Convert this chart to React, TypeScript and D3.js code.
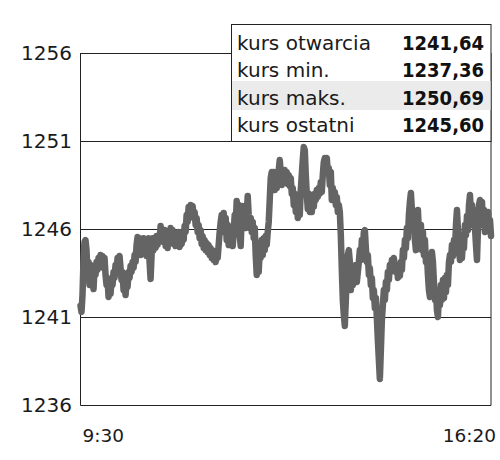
import React, { useEffect, useRef } from 'react';
import * as d3 from 'd3';

// one reading per minute, 9:30 -> 16:20
const prices = [
  1241.64, 1241.28, 1242.25, 1244.24, 1245.26, 1245.37, 1244.8, 1243.39, 1244.12, 1242.82, 1243.95,
  1242.93, 1243.67, 1242.59, 1243.78, 1243.39, 1244.12, 1243.67, 1244.35, 1243.95, 1244.52,
  1244.07, 1244.47, 1243.78, 1244.35, 1243.39, 1242.82, 1243.22, 1242.14, 1242.65, 1242.31,
  1243.1, 1242.82, 1243.56, 1243.22, 1243.95, 1243.56, 1244.35, 1244.12, 1244.47, 1243.78,
  1243.1, 1243.56, 1242.53, 1242.93, 1242.25, 1242.99, 1242.7, 1243.56, 1243.22, 1243.9,
  1243.56, 1244.12, 1243.78, 1244.52, 1244.12, 1245.09, 1245.54, 1244.8, 1245.48, 1244.52,
  1245.37, 1244.69, 1245.48, 1244.8, 1245.37, 1244.47, 1245.09, 1245.48, 1244.12, 1243.16,
  1244.52, 1245.48, 1244.8, 1245.37, 1244.92, 1245.6, 1245.09, 1245.65, 1245.26, 1246.17,
  1245.48, 1245.83, 1245.26, 1245.94, 1245.03, 1245.6, 1244.92, 1245.83, 1245.37, 1246.06,
  1245.6, 1245.94, 1245.14, 1245.6, 1245.03, 1245.48, 1245.14, 1245.83, 1244.98, 1245.37,
  1245.14, 1245.72, 1245.37, 1246.17, 1245.83, 1246.8, 1246.4, 1247.25, 1246.8, 1247.36,
  1246.97, 1247.31, 1246.63, 1246.97, 1246.23, 1246.63, 1245.83, 1246.23, 1245.48, 1245.94,
  1245.14, 1245.6, 1244.92, 1245.37, 1244.8, 1245.2, 1244.69, 1245.09, 1244.52, 1244.92,
  1244.35, 1244.8, 1244.24, 1244.69, 1244.12, 1244.52, 1244.35, 1245.09, 1245.83, 1246.4,
  1246.8, 1246.06, 1246.91, 1245.83, 1246.63, 1245.37, 1246.23, 1245.09, 1245.94, 1245.48,
  1246.06, 1245.03, 1245.83, 1246.8, 1246.23, 1247.59, 1246.97, 1247.36, 1245.65, 1245.03,
  1246.8, 1247.31, 1246.51, 1246.97, 1246.06, 1246.8, 1247.88, 1246.8, 1246.06, 1246.63,
  1245.83, 1246.4, 1245.48, 1246.06, 1244.52, 1243.39, 1244.12, 1243.56, 1244.8, 1244.35,
  1245.37, 1244.52, 1245.48, 1244.8, 1245.6, 1245.09, 1245.83, 1246.4, 1247.65, 1248.9,
  1249.24, 1248.5, 1249.24, 1248.22, 1249.13, 1248.33, 1249.07, 1249.35, 1249.92, 1249.24,
  1248.5, 1249.24, 1248.67, 1249.35, 1248.9, 1249.24, 1248.56, 1249.07, 1248.45, 1248.9,
  1248.0, 1248.33, 1247.36, 1248.0, 1246.97, 1247.65, 1246.63, 1247.36, 1246.8, 1248.22,
  1249.07, 1249.92, 1250.66, 1250.49, 1249.07, 1248.0, 1247.14, 1248.0, 1246.97, 1247.65,
  1246.97, 1247.82, 1247.25, 1248.0, 1247.65, 1248.22, 1247.82, 1248.33, 1248.0, 1248.67,
  1248.11, 1249.07, 1249.81, 1250.03, 1249.64, 1250.03, 1249.24, 1249.47, 1248.5, 1249.24,
  1247.65, 1248.33, 1247.65, 1248.11, 1247.36, 1247.82, 1246.97, 1247.36, 1246.97, 1245.65,
  1243.67, 1241.97, 1241.11, 1240.49, 1241.97, 1243.39, 1244.52, 1244.8, 1244.12, 1242.53,
  1243.67, 1242.82, 1243.78, 1243.1, 1243.95, 1242.99, 1243.56, 1244.12, 1244.8, 1244.24,
  1245.37, 1244.8, 1245.83, 1245.94, 1244.92, 1244.12, 1244.52, 1243.39, 1243.78, 1242.82,
  1243.22, 1242.08, 1242.53, 1241.51, 1242.08, 1240.94, 1239.69, 1238.56, 1237.48, 1239.13,
  1240.83, 1241.68, 1242.53, 1241.97, 1242.99, 1242.53, 1243.56, 1243.1, 1243.95, 1243.56,
  1244.24, 1243.95, 1244.35, 1243.78, 1243.56, 1243.95, 1243.22, 1243.78, 1243.33, 1244.12,
  1243.67, 1244.8, 1244.35, 1245.37, 1244.92, 1246.06, 1245.48, 1246.8, 1247.54, 1248.05,
  1247.08, 1246.23, 1246.97, 1245.37, 1244.8, 1246.06, 1247.08, 1245.83, 1244.92, 1246.23,
  1244.8, 1245.83, 1244.52, 1245.37, 1244.12, 1244.52, 1243.39, 1242.53, 1242.14, 1243.67,
  1244.69, 1244.12, 1242.99, 1241.97, 1242.53, 1241.4, 1241.0, 1242.25, 1241.68, 1242.82,
  1241.97, 1243.1, 1242.08, 1243.22, 1242.42, 1243.39, 1242.82, 1244.12, 1244.52, 1244.12,
  1245.09, 1244.47, 1245.37, 1244.69, 1246.23, 1247.08, 1245.94, 1244.8, 1244.24, 1245.65,
  1244.35, 1245.37, 1244.92, 1246.23, 1245.65, 1246.74, 1245.94, 1247.36, 1247.93, 1246.8,
  1247.36, 1246.23, 1247.08, 1246.06, 1245.09, 1244.24, 1246.06, 1247.36, 1247.65, 1246.8,
  1247.54, 1246.23, 1247.08, 1245.83, 1246.8, 1246.06, 1246.97, 1245.94, 1246.51, 1245.6,
];

const yTicks = [1236, 1241, 1246, 1251, 1256];
const timeLabels = ['9:30', '16:20'];

const legendLabels = ['kurs otwarcia', 'kurs min.', 'kurs maks.', 'kurs ostatni'];
const legendValues = ['1241,64', '1237,36', '1250,69', '1245,60'];

const App = () => {
  const svgRef = useRef<SVGSVGElement>(null);

  useEffect(() => {
    const svg = d3.select(svgRef.current);
    svg.selectAll('*').remove();

    const left = 80.5, right = 491, top = 53, bottom = 405;
    const font = '"DejaVu Sans", sans-serif';

    const x = d3.scaleLinear().domain([0, prices.length - 1]).range([left, right]);
    const y = d3.scaleLinear().domain([1236, 1256]).range([bottom, top]);

    // grid lines
    svg.append('g')
      .selectAll('line')
      .data(yTicks)
      .enter()
      .append('line')
      .attr('x1', left)
      .attr('x2', right)
      .attr('y1', d => Math.round(y(d)) + 0.5)
      .attr('y2', d => Math.round(y(d)) + 0.5)
      .attr('stroke', '#222')
      .attr('stroke-width', 1);

    // frame sides
    svg.append('line')
      .attr('x1', left).attr('x2', left)
      .attr('y1', top).attr('y2', bottom + 0.5)
      .attr('stroke', '#222');
    svg.append('line')
      .attr('x1', right).attr('x2', right)
      .attr('y1', top).attr('y2', bottom + 0.5)
      .attr('stroke', '#222');

    // y labels
    svg.append('g')
      .selectAll('text')
      .data(yTicks)
      .enter()
      .append('text')
      .attr('x', 72)
      .attr('y', d => y(d))
      .attr('dy', '0.36em')
      .attr('text-anchor', 'end')
      .style('font-family', font)
      .style('font-size', '20px')
      .style('fill', '#1a1a1a')
      .text(d => d);

    // x labels
    svg.append('text')
      .attr('x', left + 2)
      .attr('y', 442)
      .style('font-family', font)
      .style('font-size', '18.5px')
      .style('fill', '#1a1a1a')
      .text(timeLabels[0]);
    svg.append('text')
      .attr('x', 496)
      .attr('y', 442)
      .attr('text-anchor', 'end')
      .style('font-family', font)
      .style('font-size', '18.5px')
      .style('fill', '#1a1a1a')
      .text(timeLabels[1]);

    // price line
    const line = d3.line<number>()
      .x((d, i) => x(i))
      .y(d => y(d))
      .curve(d3.curveLinear);

    svg.append('path')
      .datum(prices)
      .attr('d', line)
      .attr('fill', 'none')
      .attr('stroke', '#646464')
      .attr('stroke-width', 6.5)
      .attr('stroke-linejoin', 'round')
      .attr('stroke-linecap', 'round');

    // legend table
    const lg = svg.append('g');
    lg.append('rect')
      .attr('x', 231.5)
      .attr('y', 24.5)
      .attr('width', right - 231.5)
      .attr('height', Math.round(y(1251)) + 0.5 - 24.5)
      .attr('fill', '#fff')
      .attr('stroke', '#222');

    const rowY = d3.scaleLinear().domain([0, 3]).range([50, 132]);

    lg.append('rect')
      .attr('x', 232)
      .attr('y', 81)
      .attr('width', right - 232.5)
      .attr('height', 29)
      .attr('fill', '#ebebeb');

    lg.selectAll('.lbl')
      .data(legendLabels)
      .enter()
      .append('text')
      .attr('class', 'lbl')
      .attr('x', 237)
      .attr('y', (d, i) => rowY(i))
      .style('font-family', font)
      .style('font-size', '20px')
      .style('fill', '#1a1a1a')
      .text(d => d);

    lg.selectAll('.val')
      .data(legendValues)
      .enter()
      .append('text')
      .attr('class', 'val')
      .attr('x', 484)
      .attr('y', (d, i) => rowY(i))
      .attr('text-anchor', 'end')
      .style('font-family', '"DejaVu Sans Condensed", "DejaVu Sans", sans-serif')
      .style('font-weight', 'bold')
      .style('font-size', '20px')
      .style('fill', '#111')
      .text(d => d);
  }, []);

  return (
    <svg
      ref={svgRef}
      width={500}
      height={460}
      style={{ position: 'absolute', left: 0, top: 0, background: '#fff' }}
    />
  );
};

export default App;
